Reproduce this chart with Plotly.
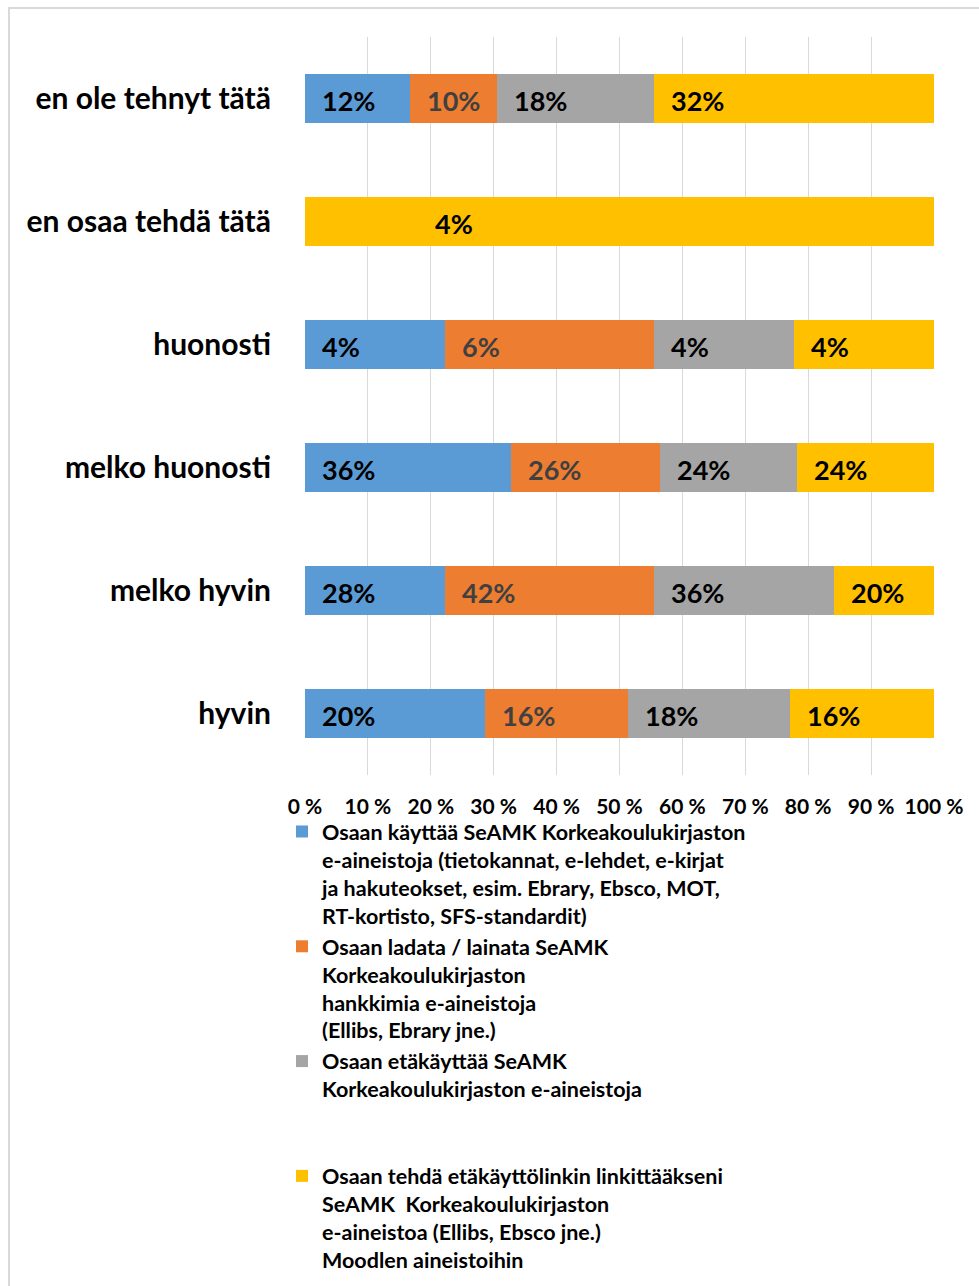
import plotly.graph_objects as go

# Survey answers (share of respondents per statement), bottom row first
categories = ["hyvin", "melko hyvin", "melko huonosti", "huonosti",
              "en osaa tehdä tätä", "en ole tehnyt tätä"]

series_names = [
    "Osaan käyttää SeAMK Korkeakoulukirjaston<br>e-aineistoja (tietokannat, e-lehdet, e-kirjat<br>"
    "ja hakuteokset, esim. Ebrary, Ebsco, MOT,<br>RT-kortisto, SFS-standardit)",
    "Osaan ladata / lainata SeAMK<br>Korkeakoulukirjaston<br>hankkimia e-aineistoja<br>(Ellibs, Ebrary jne.)",
    "Osaan etäkäyttää SeAMK<br>Korkeakoulukirjaston e-aineistoja<br>\u00a0<br>\u00a0",
    "Osaan tehdä etäkäyttölinkin linkittääkseni<br>SeAMK  Korkeakoulukirjaston<br>"
    "e-aineistoa (Ellibs, Ebsco jne.)<br>Moodlen aineistoihin",
]

kaytto = [20, 28, 36, 4, 0, 12]
lataus = [16, 42, 26, 6, 0, 10]
etakaytto = [18, 36, 24, 4, 0, 18]
linkitys = [16, 20, 24, 4, 4, 32]
series_values = [kaytto, lataus, etakaytto, linkitys]

x_ticks = [0, 10, 20, 30, 40, 50, 60, 70, 80, 90, 100]
x_tick_labels = [f"{t} %" for t in x_ticks]

colors = ["#5B9BD5", "#ED7D31", "#A5A5A5", "#FFC000"]
label_colors = ["#000000", "#404040", "#000000", "#000000"]

FONT = "Lato"
W, H = 979, 1286
ML, MR, MT, MB = 305, 45, 37, 511

fig = go.Figure()
for name, vals, col in zip(series_names, series_values, colors):
    fig.add_trace(go.Bar(
        y=categories, x=vals, name=name, orientation="h",
        marker=dict(color=col, line=dict(width=0)),
        legendgroup=name, hoverinfo="skip",
    ))

# value labels placed near the start of each segment
label_shift = {("en osaa tehdä tätä", 3): 128}
annotations = []
for j, cat in enumerate(categories):
    total = sum(v[j] for v in series_values)
    start = 0.0
    for i, vals in enumerate(series_values):
        v = vals[j]
        if v > 0:
            annotations.append(dict(
                x=100.0 * start / total, y=cat, xref="x", yref="y",
                text=f"{v}%", showarrow=False, xanchor="left", yanchor="middle",
                xshift=label_shift.get((cat, i), 15), yshift=-2,
                font=dict(family=FONT, size=27, color=label_colors[i], weight=700),
            ))
        start += v

pw = W - ML - MR
ph = H - MT - MB


def px_x(p):
    return (p - ML) / pw


def px_y(p):
    return 1 - (p - MT) / ph


fig.update_layout(
    width=W, height=H,
    margin=dict(l=ML, r=MR, t=MT, b=MB, autoexpand=False),
    paper_bgcolor="white", plot_bgcolor="white",
    barmode="stack", barnorm="percent", bargap=0.605,
    font=dict(family=FONT, color="#000000"),
    annotations=annotations,
    showlegend=True,
    legend=dict(
        x=px_x(282), y=px_y(811), xanchor="left", yanchor="top",
        traceorder="grouped", tracegroupgap=0, valign="top",
        font=dict(family=FONT, size=21.5, color="#000000", weight=700),
        bgcolor="rgba(0,0,0,0)",
    ),
    shapes=[dict(
        type="rect", xref="paper", yref="paper",
        x0=px_x(9), x1=px_x(1100), y0=px_y(1400), y1=px_y(8),
        line=dict(color="#D9D9D9", width=2), fillcolor="rgba(0,0,0,0)", layer="below",
    )],
    xaxis=dict(
        range=[0, 100], tickmode="array", tickvals=x_ticks, ticktext=x_tick_labels,
        showgrid=True, gridcolor="#D9D9D9", gridwidth=1, zeroline=False,
        showline=False, ticks="outside", ticklen=13, tickcolor="rgba(0,0,0,0)",
        tickfont=dict(family=FONT, size=21, color="#000000", weight=700),
        fixedrange=True,
    ),
    yaxis=dict(
        showgrid=False, zeroline=False, showline=False,
        ticks="outside", ticklen=27, tickcolor="rgba(0,0,0,0)",
        tickfont=dict(family=FONT, size=30, color="#000000", weight=700),
        fixedrange=True,
    ),
)

fig.write_html("out.html")
